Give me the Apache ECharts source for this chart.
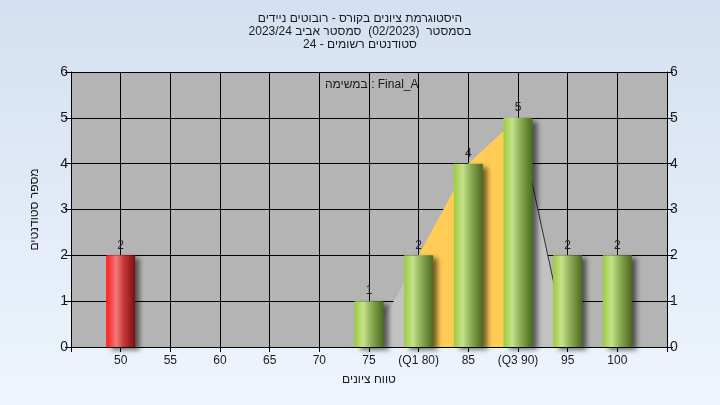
<!DOCTYPE html>
<html>
<head>
<meta charset="utf-8">
<script src="https://cdn.jsdelivr.net/npm/echarts@6/dist/echarts.min.js"></script>
<style>
html,body{margin:0;padding:0;width:720px;height:405px;overflow:hidden;}
#c{width:720px;height:405px;}
</style>
</head>
<body>
<div id="c"></div>
<script>
// ---- data ----
var titleLines = [
  'היסטוגרמת ציונים בקורס - רובוטים ניידים',
  'בסמסטר  (02/2023)  סמסטר אביב 2023/24',
  'סטודנטים רשומים - 24'
];
var subTitle = 'במשימה : Final_A';
var xAxisName = 'טווח ציונים';
var yAxisName = 'מספר סטודנטים';

var tickValues = [50, 55, 60, 65, 70, 75, 80, 85, 90, 95, 100];
var tickLabels = ['50', '55', '60', '65', '70', '75', '(Q1 80)', '85', '(Q3 90)', '95', '100'];

var scores = [50, 75, 80, 85, 90, 95, 100];
var counts = [2, 1, 2, 4, 5, 2, 2];
var failing = [true, false, false, false, false, false, false];

var curveX = [75, 80, 85, 90, 95];
var curveY = [0, 2, 4, 5, 0];
var q1 = 80, q3 = 90;

// ---- build ----
var font = '"Liberation Sans", "DejaVu Sans", Arial, sans-serif';
var labelMap = {};
tickValues.forEach(function (v, i) { labelMap[v] = tickLabels[i]; });

var curveData = curveX.map(function (x, i) { return [x, curveY[i]]; });
var iqrData = curveData.filter(function (p) { return p[0] >= q1 && p[0] <= q3; });
var tailData = curveData.filter(function (p) { return p[0] >= q3; });

function barGrad(fail) {
  var stops = fail ?
    [{offset: 0, color: '#ff1a1a'}, {offset: 0.35, color: '#f07a7a'}, {offset: 0.6, color: '#c83a3a'}, {offset: 1, color: '#7a0e0e'}] :
    [{offset: 0, color: '#9ccc3c'}, {offset: 0.3, color: '#c6e28c'}, {offset: 0.6, color: '#8aaa54'}, {offset: 1, color: '#4a6a1e'}];
  return new echarts.graphic.LinearGradient(0, 0, 1, 0, stops);
}

var barData = scores.map(function (s, i) {
  return {
    value: [s, counts[i]],
    itemStyle: {
      color: barGrad(failing[i]),
      shadowColor: 'rgba(0,0,0,0.55)',
      shadowBlur: 5,
      shadowOffsetX: 5,
      shadowOffsetY: 3
    }
  };
});

var chart = echarts.init(document.getElementById('c'), null, {renderer: 'canvas'});

var yAxisCommon = {
  type: 'value', min: 0, max: 6, interval: 1,
  axisLine: {show: true, lineStyle: {color: '#000', width: 1}},
  axisTick: {show: true, length: 6, lineStyle: {color: '#000'}},
  axisLabel: {color: '#1a1a1a', fontSize: 14, fontFamily: font, margin: 3}
};

chart.setOption({
  backgroundColor: new echarts.graphic.LinearGradient(0, 0, 0, 1, [
    {offset: 0, color: '#d4e0f1'}, {offset: 1, color: '#eef5fd'}
  ]),
  animation: false,
  title: {
    text: titleLines.join('\n'),
    left: 'center',
    top: 7,
    textStyle: {fontSize: 12, fontWeight: 'normal', color: '#1a1a1a', fontFamily: font, lineHeight: 13}
  },
  graphic: [{
    type: 'text',
    left: 325, top: 79,
    style: {text: subTitle, fontSize: 12, fill: '#1a1a1a', fontFamily: font}
  }],
  grid: {
    left: 71, right: 53, top: 72, bottom: 58,
    show: true, backgroundColor: '#b4b4b4', borderWidth: 0
  },
  xAxis: {
    type: 'value', min: 45, max: 105, interval: 5,
    name: xAxisName, nameLocation: 'middle', nameGap: 27,
    nameTextStyle: {fontSize: 12, color: '#1a1a1a', fontFamily: font},
    axisLine: {show: true, lineStyle: {color: '#000', width: 1}},
    axisTick: {show: true, length: 5, lineStyle: {color: '#000'}},
    axisLabel: {
      color: '#1a1a1a', fontSize: 12, fontFamily: font, margin: 8,
      formatter: function (v) { return labelMap[v] || ''; }
    },
    splitLine: {show: true, lineStyle: {color: '#000', width: 1}}
  },
  yAxis: [
    Object.assign({}, yAxisCommon, {
      position: 'left',
      name: yAxisName, nameLocation: 'middle', nameGap: 30, nameRotate: 90,
      nameTextStyle: {fontSize: 12, color: '#1a1a1a', fontFamily: font},
      splitLine: {show: true, lineStyle: {color: '#000', width: 1}}
    }),
    Object.assign({}, yAxisCommon, {
      position: 'right',
      splitLine: {show: false}
    })
  ],
  series: [
    {
      type: 'line', data: curveData, symbol: 'none', silent: true,
      lineStyle: {width: 0}, areaStyle: {color: '#c2c2c2', opacity: 1}, z: 1
    },
    {
      type: 'line', data: iqrData, symbol: 'none', silent: true,
      lineStyle: {width: 0}, areaStyle: {color: '#ffcc55', opacity: 1}, z: 1
    },
    {
      type: 'line', data: tailData, symbol: 'none', silent: true,
      lineStyle: {width: 1, color: '#303030'}, z: 1
    },
    {
      type: 'bar', data: barData, barWidth: 29, z: 3,
      label: {show: true, position: 'top', distance: 4, color: '#1c2030', fontSize: 12, fontFamily: font}
    }
  ]
});
</script>
</body>
</html>
